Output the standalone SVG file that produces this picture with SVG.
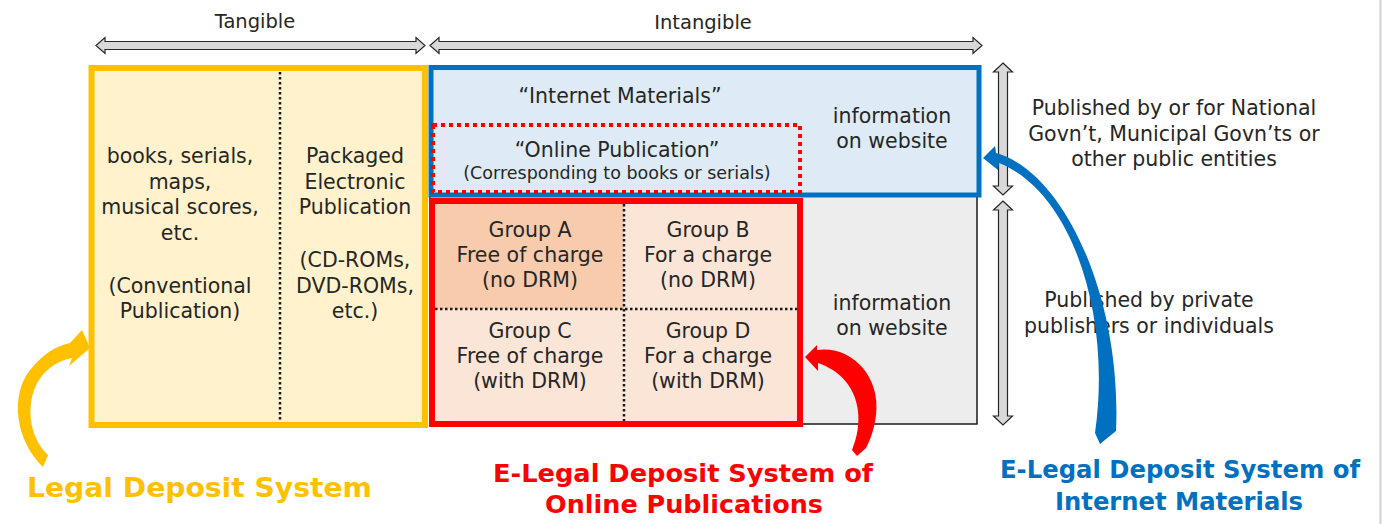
<svg xmlns="http://www.w3.org/2000/svg" width="1384" height="524" viewBox="0 0 1384 524">
<style>
.t{font-family:"DejaVu Sans","Liberation Sans",sans-serif;font-size:20.5px;fill:#262626;text-anchor:middle}
.s{font-size:17.5px}
.h{font-size:19.5px}
.b{font-family:"DejaVu Sans","Liberation Sans",sans-serif;font-weight:bold;text-anchor:middle}
.dot{stroke:#1a1a1a;stroke-width:2.5;stroke-dasharray:2.5 2.5;fill:none}
.ga{fill:#D9D9D9;stroke:#262626;stroke-width:1.2}
</style>
<rect x="0" y="0" width="1384" height="524" fill="#ffffff"/>
<line x1="1380.5" y1="0" x2="1380.5" y2="524" stroke="#cfcfcf" stroke-width="2"/>

<g id="scale-arrows">
<path class="ga" d="M96,45.5 L105,37.5 L105,41.5 L416,41.5 L416,37.5 L425,45.5 L416,53.5 L416,49.5 L105,49.5 L105,53.5 Z"/>
<path class="ga" d="M430,45.5 L439,37.5 L439,41.5 L973,41.5 L973,37.5 L982,45.5 L973,53.5 L973,49.5 L439,49.5 L439,53.5 Z"/>
<path class="ga" d="M1003,63 L1012.5,72 L1007.5,72 L1007.5,186 L1012.5,186 L1003,195 L993.5,186 L998.5,186 L998.5,72 L993.5,72 Z"/>
<path class="ga" d="M1003,201 L1012.5,210 L1007.5,210 L1007.5,416 L1012.5,416 L1003,425 L993.5,416 L998.5,416 L998.5,210 L993.5,210 Z"/>
<text class="t h" x="255" y="28">Tangible</text>
<text class="t h" x="703" y="29">Intangible</text>
</g>

<g id="tangible-box">
<rect x="91.5" y="68" width="333.5" height="357" fill="#FFF2CC" stroke="#FFC000" stroke-width="6"/>
<line class="dot" x1="280" y1="72" x2="280" y2="422"/>
<text class="t" x="180" y="163">books, serials,</text>
<text class="t" x="180" y="188.5">maps,</text>
<text class="t" x="180" y="214">musical scores,</text>
<text class="t" x="180" y="240">etc.</text>
<text class="t" x="180" y="292.5">(Conventional</text>
<text class="t" x="180" y="318">Publication)</text>
<text class="t" x="355" y="163">Packaged</text>
<text class="t" x="355" y="189">Electronic</text>
<text class="t" x="355" y="214">Publication</text>
<text class="t" x="355" y="267">(CD-ROMs,</text>
<text class="t" x="355" y="292.5">DVD-ROMs,</text>
<text class="t" x="355" y="318">etc.)</text>
</g>

<g id="private-area">
<rect x="430" y="67" width="547" height="357" fill="#EDEDED" stroke="#1a1a1a" stroke-width="1.5"/>
<text class="t" x="892" y="310">information</text>
<text class="t" x="892" y="335">on website</text>
</g>

<g id="internet-materials">
<rect x="431" y="67.5" width="548" height="127.5" fill="#DEEBF7" stroke="#0070C0" stroke-width="5"/>
<text class="t" x="620" y="103">“Internet Materials”</text>
<text class="t" x="892" y="123">information</text>
<text class="t" x="892" y="148">on website</text>
</g>

<g id="online-publication">
<rect x="433" y="125" width="367" height="67" fill="none" stroke="#FF0000" stroke-width="4" stroke-dasharray="4 4"/>
<text class="t" x="617" y="157">“Online Publication”</text>
<text class="t s" x="617" y="179">(Corresponding to books or serials)</text>
</g>

<g id="online-groups">
<rect x="432" y="201" width="368" height="223" fill="#FBE5D6"/>
<rect x="435" y="204" width="189" height="105" fill="#F8CBAD"/>
<line class="dot" x1="624" y1="204" x2="624" y2="421"/>
<line class="dot" x1="435" y1="309" x2="797" y2="309"/>
<rect x="432" y="201" width="368" height="223" fill="none" stroke="#FF0000" stroke-width="6"/>
<text class="t" x="530" y="237">Group A</text>
<text class="t" x="530" y="262">Free of charge</text>
<text class="t" x="530" y="287">(no DRM)</text>
<text class="t" x="708" y="237">Group B</text>
<text class="t" x="708" y="262">For a charge</text>
<text class="t" x="708" y="287">(no DRM)</text>
<text class="t" x="530" y="338">Group C</text>
<text class="t" x="530" y="363">Free of charge</text>
<text class="t" x="530" y="388">(with DRM)</text>
<text class="t" x="708" y="338">Group D</text>
<text class="t" x="708" y="363">For a charge</text>
<text class="t" x="708" y="388">(with DRM)</text>
</g>

<g id="publisher-labels">
<text class="t" x="1174" y="115">Published by or for National</text>
<text class="t" x="1174" y="140.5">Govn’t, Municipal Govn’ts or</text>
<text class="t" x="1174" y="166">other public entities</text>
<text class="t" x="1149" y="307">Published by private</text>
<text class="t" x="1149" y="333">publishers or individuals</text>
</g>

<g id="connectors">
<path fill="#FFC000" d="M43,467 C15,440 10,395 30,370 C42,355 55,346 70,343 L82,330 L90,348 L69,366 L72,358 C55,361 41,372 34,390 C26,414 32,440 48,455 Z"/>
<path fill="#FF0000" d="M817,350 C850,345 881,375 876,415 C874,432 869,442 866,448 L857,456 L852,450 C865,420 861,378 818,363 L818,371 L805,357 L817,345 Z"/>
<path fill="#0070C0" d="M996,153 C1065,172 1122,300 1116,431 L1100,444 L1095,433 C1112,315 1072,192 999,163 L998,170 L983,158 L995,146 Z"/>
</g>

<g id="system-labels">
<text class="b" x="199.5" y="497" font-size="27" fill="#FFC000" textLength="345" lengthAdjust="spacingAndGlyphs">Legal Deposit System</text>
<text class="b" x="683" y="482" font-size="25" fill="#FF0000" textLength="380" lengthAdjust="spacingAndGlyphs">E-Legal Deposit System of</text>
<text class="b" x="684" y="513" font-size="25" fill="#FF0000" textLength="278" lengthAdjust="spacingAndGlyphs">Online Publications</text>
<text class="b" x="1180" y="478" font-size="24" fill="#0070C0" textLength="360" lengthAdjust="spacingAndGlyphs">E-Legal Deposit System of</text>
<text class="b" x="1179" y="510" font-size="24" fill="#0070C0" textLength="248" lengthAdjust="spacingAndGlyphs">Internet Materials</text>
</g>
</svg>
